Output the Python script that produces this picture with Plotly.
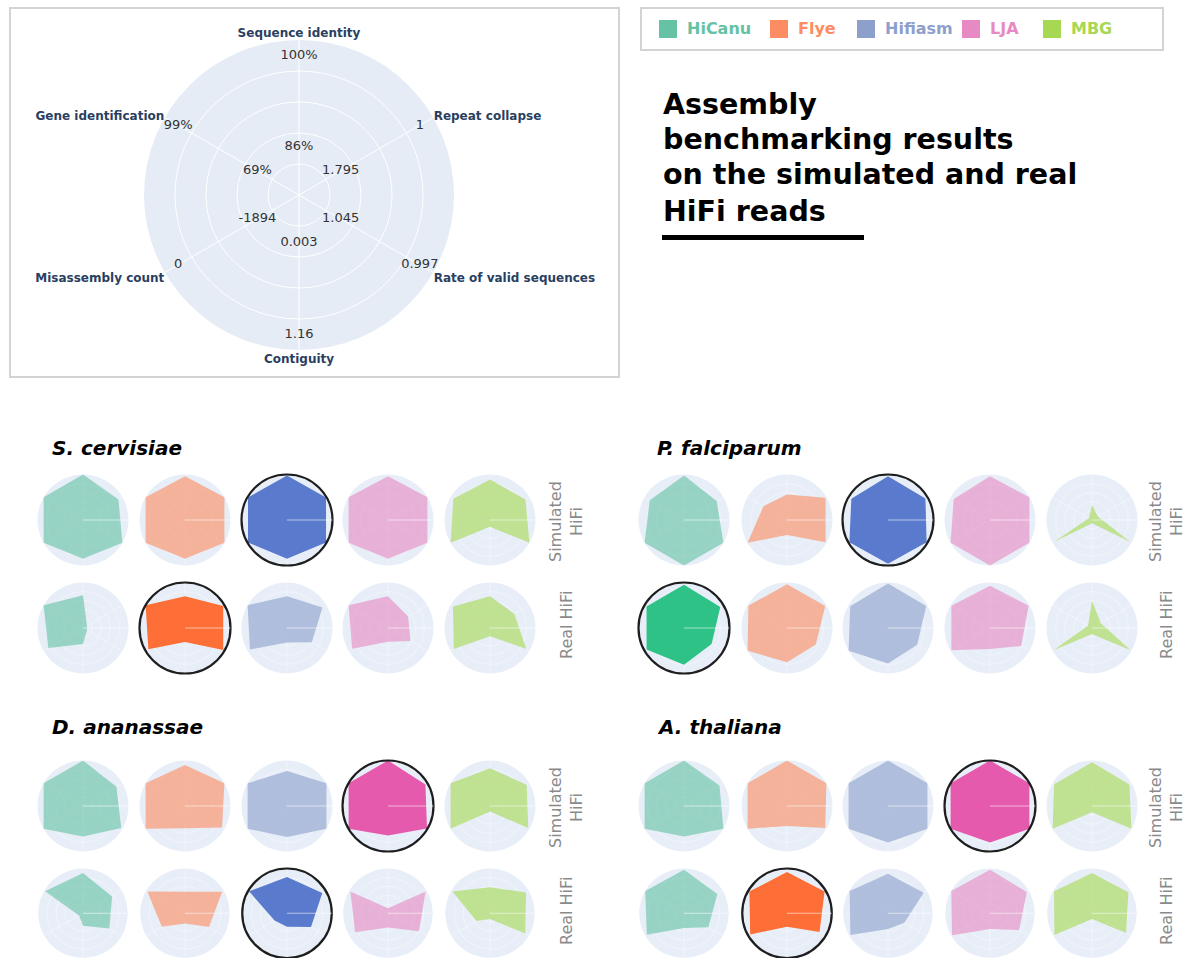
import plotly.graph_objects as go

W, H = 1189, 958

# ---- reference radar: axis names and the tick values printed along each spoke
metrics = ["Sequence identity", "Repeat collapse", "Rate of valid sequences",
           "Contiguity", "Misassembly count", "Gene identification"]
inner_ticks = ["86%", "1.795", "1.045", "0.003", "-1894", "69%"]
outer_ticks = ["100%", "1", "0.997", "1.16", "0", "99%"]
inner_tick_r = [0.31] * 6
outer_tick_r = [0.9] * 6

# ---- assemblers and palette
assemblers = ["HiCanu", "Flye", "Hifiasm", "LJA", "MBG"]
colors = ["#66c2a5", "#fc8d62", "#8da0cb", "#e78ac3", "#a6d854"]
best_colors = ["#2ec286", "#fe6f37", "#5a7bcd", "#e65aad", "#7cc63a"]

species = ["S. cervisiae", "P. falciparum", "D. ananassae", "A. thaliana"]
read_types = ["Simulated<br>HiFi", "Real HiFi"]

# ---- normalised scores, one row per assembler, columns follow `metrics`
s_cervisiae_sim = [
    [1.00, 0.90, 1.00, 0.85, 1.00, 1.00],
    [0.96, 1.00, 1.00, 0.85, 1.00, 1.00],
    [0.98, 0.99, 0.99, 0.85, 0.99, 0.99],
    [0.96, 1.00, 1.00, 0.85, 1.00, 1.00],
    [0.89, 0.90, 1.00, 0.15, 1.00, 0.93],
]
s_cervisiae_real = [
    [0.72, 0.10, 0.10, 0.35, 0.88, 1.00],
    [0.70, 0.97, 0.97, 0.31, 0.93, 1.00],
    [0.70, 0.90, 0.63, 0.32, 0.94, 1.00],
    [0.70, 0.51, 0.57, 0.30, 0.91, 1.00],
    [0.70, 0.62, 0.92, 0.18, 0.92, 0.94],
]
p_falciparum_sim = [
    [0.98, 0.83, 1.00, 1.00, 1.00, 0.87],
    [0.56, 0.98, 0.98, 0.33, 1.00, 0.60],
    [0.96, 0.95, 0.98, 0.96, 0.98, 0.93],
    [0.96, 1.00, 1.00, 1.00, 1.00, 0.92],
    [0.33, 0.15, 0.98, 0.07, 0.98, 0.08],
]
p_falciparum_real = [
    [0.95, 0.92, 0.70, 0.81, 0.95, 0.95],
    [0.96, 0.97, 0.73, 0.75, 1.00, 0.98],
    [0.98, 0.97, 0.74, 0.78, 1.00, 0.96],
    [0.93, 0.98, 0.79, 0.46, 0.98, 0.98],
    [0.60, 0.22, 0.98, 0.13, 0.98, 0.10],
]
d_ananassae_sim = [
    [1.00, 0.85, 0.97, 0.67, 1.00, 1.00],
    [0.90, 1.00, 0.94, 0.49, 1.00, 1.00],
    [0.77, 1.00, 1.00, 0.68, 1.00, 1.00],
    [1.00, 0.95, 0.99, 0.65, 1.00, 1.00],
    [0.83, 0.93, 0.97, 0.12, 1.00, 1.00],
]
d_ananassae_real = [
    [0.90, 0.75, 0.68, 0.28, 0.10, 0.98],
    [0.48, 0.96, 0.62, 0.23, 0.60, 0.97],
    [0.81, 0.91, 0.62, 0.30, 0.32, 0.98],
    [0.11, 0.97, 0.80, 0.32, 0.85, 0.97],
    [0.58, 0.93, 0.91, 0.13, 0.35, 0.97],
]
a_thaliana_sim = [
    [1.00, 0.90, 1.00, 0.67, 1.00, 1.00],
    [1.00, 1.00, 0.97, 0.44, 1.00, 1.00],
    [1.00, 1.00, 1.00, 0.80, 1.00, 1.00],
    [1.00, 1.00, 1.00, 0.80, 1.00, 1.00],
    [0.96, 0.95, 1.00, 0.14, 1.00, 0.96],
]
a_thaliana_real = [
    [0.97, 0.86, 0.63, 0.33, 0.96, 1.00],
    [0.92, 0.97, 0.84, 0.30, 0.95, 0.97],
    [0.88, 0.92, 0.42, 0.35, 0.97, 0.99],
    [0.97, 0.95, 0.75, 0.35, 0.98, 1.00],
    [0.90, 0.94, 0.88, 0.13, 0.97, 0.98],
]

# best assembler for (simulated, real) in each species
s_cervisiae_best = ["Hifiasm", "Flye"]
p_falciparum_best = ["Hifiasm", "HiCanu"]
d_ananassae_best = ["LJA", "Hifiasm"]
a_thaliana_best = ["LJA", "Flye"]

species_scores = [
    (s_cervisiae_sim, s_cervisiae_real, s_cervisiae_best),
    (p_falciparum_sim, p_falciparum_real, p_falciparum_best),
    (d_ananassae_sim, d_ananassae_real, d_ananassae_best),
    (a_thaliana_sim, a_thaliana_real, a_thaliana_best),
]


# ---- pixel helpers (paper spans the whole page)
def fx(x):
    return x / W


def fy(y):
    return 1 - y / H


def clamp(v):
    return max(0.0, min(1.0, v))


def domain(cx, cy, rad):
    return dict(x=[clamp(fx(cx - rad)), clamp(fx(cx + rad))],
                y=[clamp(fy(cy + rad)), clamp(fy(cy - rad))])


def rgba(hex_color, a):
    h = hex_color.lstrip("#")
    r, g, b = int(h[0:2], 16), int(h[2:4], 16), int(h[4:6], 16)
    return f"rgba({r},{g},{b},{a})"


fig = go.Figure()
layout = {}

# ---- large explanatory radar
fig.add_trace(go.Scatterpolar(
    r=inner_tick_r, theta=metrics, text=inner_ticks, mode="text",
    textfont=dict(size=13, color="#333333"), subplot="polar",
    hoverinfo="skip", showlegend=False))
fig.add_trace(go.Scatterpolar(
    r=outer_tick_r, theta=metrics, text=outer_ticks, mode="text",
    textfont=dict(size=13, color="#333333"), subplot="polar",
    hoverinfo="skip", showlegend=False))
layout["polar"] = dict(
    domain=domain(299, 195, 155),
    bgcolor="#e5ecf6",
    angularaxis=dict(direction="clockwise", rotation=90, gridcolor="white",
                     showline=False, ticks="",
                     tickfont=dict(size=12, color="#2a3f5f", weight="bold")),
    radialaxis=dict(range=[0, 1], tickvals=[0.2, 0.4, 0.6, 0.8],
                    showticklabels=False, ticks="", showline=False,
                    gridcolor="white"),
)

# ---- small radars
col_x = [[83, 185, 287, 388, 490], [684, 787, 888, 990, 1092],
         [83, 185, 287, 388, 490], [684, 787, 888, 990, 1092]]
row_y = [[520, 628], [520, 628], [806, 914], [806, 914]]
small_r = 45.5
faint_grid = "rgba(255,255,255,0.35)"
faint_line = "rgba(255,255,255,0.55)"

k = 2
for s, (sim, real, best) in enumerate(species_scores):
    for row, table in enumerate([sim, real]):
        for j, name in enumerate(assemblers):
            is_best = best[row] == name
            pname = f"polar{k}"
            fig.add_trace(go.Scatterpolar(
                r=table[j], theta=metrics, fill="toself", mode="lines",
                fillcolor=best_colors[j] if is_best else rgba(colors[j], 0.62),
                line=dict(width=0, color=best_colors[j] if is_best else colors[j]),
                subplot=pname, name=name, hoverinfo="skip", showlegend=False))
            layout[pname] = dict(
                domain=domain(col_x[s][j], row_y[s][row], small_r),
                bgcolor="#e8eef8",
                angularaxis=dict(direction="clockwise", rotation=90,
                                 showticklabels=False, ticks="",
                                 gridcolor=faint_grid, showline=is_best,
                                 linecolor="#1e1e1e", linewidth=2.2),
                radialaxis=dict(range=[0, 1], tickvals=[0.2, 0.4, 0.6, 0.8],
                                showticklabels=False, ticks="", showline=True,
                                linecolor=faint_line, gridcolor=faint_grid),
            )
            k += 1

shapes = []
annotations = []

# border around the explanatory radar
shapes.append(dict(type="rect", xref="paper", yref="paper",
                   x0=fx(10), x1=fx(619), y0=fy(377), y1=fy(8),
                   line=dict(color="#d3d3d3", width=2)))

# legend box with coloured swatches and names
shapes.append(dict(type="rect", xref="paper", yref="paper",
                   x0=fx(641), x1=fx(1163), y0=fy(50), y1=fy(8),
                   line=dict(color="#d3d3d3", width=2)))
swatch_x = [659, 770, 857, 962, 1043]
for name, c, sx in zip(assemblers, colors, swatch_x):
    shapes.append(dict(type="rect", xref="paper", yref="paper",
                       x0=fx(sx), x1=fx(sx + 18), y0=fy(38), y1=fy(20),
                       fillcolor=c, line=dict(width=0)))
    annotations.append(dict(text=f"<b>{name}</b>", x=fx(sx + 26), y=fy(29),
                            xref="paper", yref="paper", xanchor="left",
                            yanchor="middle", showarrow=False,
                            font=dict(size=16, color=c)))

# title
title_lines = ["Assembly", "benchmarking results", "on the simulated and real",
               "HiFi reads"]
title_y = [104, 140, 175, 211]
for line, ty in zip(title_lines, title_y):
    annotations.append(dict(text=f"<b>{line}</b>", x=fx(661), y=fy(ty),
                            xref="paper", yref="paper", xanchor="left",
                            yanchor="middle", showarrow=False,
                            font=dict(size=28.5, color="black")))
shapes.append(dict(type="rect", xref="paper", yref="paper",
                   x0=fx(662), x1=fx(864), y0=fy(240), y1=fy(235),
                   fillcolor="black", line=dict(width=0)))

# species headers and read-type labels
header_pos = [(50, 448), (655, 448), (50, 727), (655, 727)]
label_x = [566, 1166, 566, 1166]
for s, name in enumerate(species):
    hx, hy = header_pos[s]
    annotations.append(dict(text=f"<b><i>{name}</i></b>", x=fx(hx), y=fy(hy),
                            xref="paper", yref="paper", xanchor="left",
                            yanchor="middle", showarrow=False,
                            font=dict(size=20, color="black")))
    for row, lab in enumerate(read_types):
        annotations.append(dict(text=lab, x=fx(label_x[s]),
                                y=fy(row_y[s][row] + (2 if row == 0 else -3)),
                                xref="paper", yref="paper", xanchor="center",
                                yanchor="middle", textangle=-90,
                                showarrow=False,
                                font=dict(size=16, color="#8a8a8a")))

fig.update_layout(
    width=W, height=H,
    margin=dict(l=0, r=0, t=0, b=0),
    paper_bgcolor="white",
    plot_bgcolor="white",
    font=dict(family="DejaVu Sans"),
    showlegend=False,
    shapes=shapes,
    annotations=annotations,
    **layout,
)

fig.write_html("out.html")
